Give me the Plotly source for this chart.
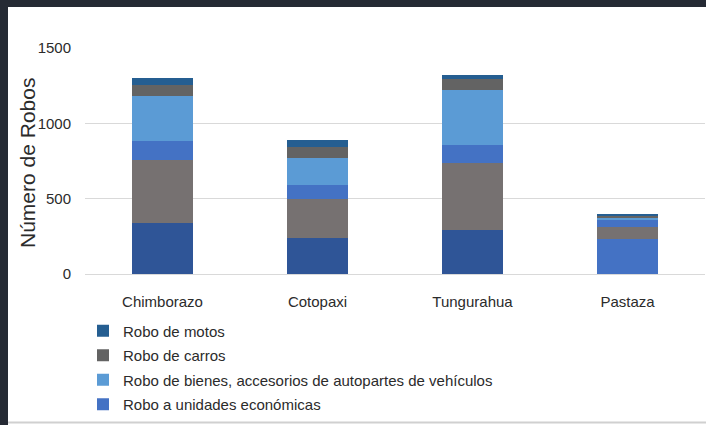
import plotly.graph_objects as go

# ---- data ----
provincias = ["Chimborazo", "Cotopaxi", "Tungurahua", "Pastaza"]
robo_personas = [340, 237, 290, 232]
robo_domicilios = [419, 259, 449, 78]
robo_unidades = [122, 93, 117, 46]
robo_bienes = [298, 181, 367, 18]
robo_carros = [75, 75, 73, 11]
robo_motos = [45, 44, 25, 11]
y_ticks = [0, 500, 1000, 1500]

W, H = 706, 425
# plot area in page pixels: x 85..705, y 48..274
ML, MR, MT, MB = 85, 1, 48, H - 274
PW, PH = W - ML - MR, H - MT - MB


def px(xp):
    return (xp - ML) / PW


def py(yp):
    return (H - MB - yp) / PH


FONT = "Liberation Sans, Arial, sans-serif"
TXT = "#2b2b2b"
DARK = "#252a34"

series = [
    ("Robo a personas", robo_personas, ["#2f5597", "#2f5597", "#2f5597", "#4472c4"], False, 6),
    ("Robo a domicilios", robo_domicilios, "#767171", False, 5),
    ("Robo a unidades económicas", robo_unidades, "#4472c4", True, 4),
    ("Robo de bienes, accesorios de autopartes de vehículos", robo_bienes, "#5b9bd5", True, 3),
    ("Robo de carros", robo_carros, "#636363", True, 2),
    ("Robo de motos", robo_motos, "#255e91", True, 1),
]

fig = go.Figure()
for name, vals, col, show, rank in series:
    fig.add_trace(go.Bar(
        x=provincias, y=vals, name=name, showlegend=show, legendgroup=name,
        legendrank=rank, marker=dict(color=col, line=dict(width=0)),
    ))


def band(x0, y0, w, h):
    return dict(text=" ", xref="paper", yref="paper", x=px(x0), y=py(y0),
                xanchor="left", yanchor="top", showarrow=False,
                width=w, height=h, borderpad=0, borderwidth=0,
                bgcolor=DARK, font=dict(size=1))


fig.update_layout(
    width=W, height=H,
    margin=dict(l=ML, r=MR, t=MT, b=MB, pad=0),
    paper_bgcolor="white", plot_bgcolor="white",
    barmode="stack", bargap=0.603,
    font=dict(family=FONT, size=15, color=TXT),
    xaxis=dict(
        showgrid=False, showline=False, zeroline=False,
        ticks="outside", ticklen=14, tickcolor="rgba(0,0,0,0)",
        tickfont=dict(family=FONT, size=15, color=TXT),
    ),
    yaxis=dict(
        range=[0, 1500], tickvals=y_ticks,
        showgrid=True, gridcolor="#d9d9d9", gridwidth=1,
        zeroline=True, zerolinecolor="#d9d9d9", zerolinewidth=1,
        showline=False,
        ticks="outside", ticklen=10, tickcolor="rgba(0,0,0,0)",
        tickfont=dict(family=FONT, size=15, color=TXT),
    ),
    legend=dict(
        traceorder="grouped", orientation="v",
        x=px(83), y=py(314.5), xanchor="left", yanchor="top",
        font=dict(family=FONT, size=15, color=TXT),
        tracegroupgap=2, bgcolor="rgba(0,0,0,0)",
    ),
    annotations=[
        dict(
            text="Número de Robos", textangle=-90,
            xref="paper", yref="paper", x=px(27), y=py(163),
            xanchor="center", yanchor="middle", showarrow=False,
            font=dict(family=FONT, size=21, color=TXT),
        ),
        band(0, 0, W, 7),
        band(0, 0, 8, H),
    ],
    shapes=[
        dict(type="rect", xref="paper", yref="paper", x0=px(0), x1=px(W), y0=py(7), y1=py(0),
             fillcolor=DARK, line=dict(width=0), layer="above"),
        dict(type="rect", xref="paper", yref="paper", x0=px(0), x1=px(8), y0=py(H), y1=py(0),
             fillcolor=DARK, line=dict(width=0), layer="above"),
        dict(type="line", xref="paper", yref="paper", x0=px(8), x1=px(W), y0=py(422.5), y1=py(422.5),
             line=dict(color="#d0d0d0", width=2), layer="above"),
    ],
)

fig.write_html(
    "out.html",
    config={"displayModeBar": False},
    post_script="document.body.style.margin='0';document.body.style.overflow='hidden';",
)
